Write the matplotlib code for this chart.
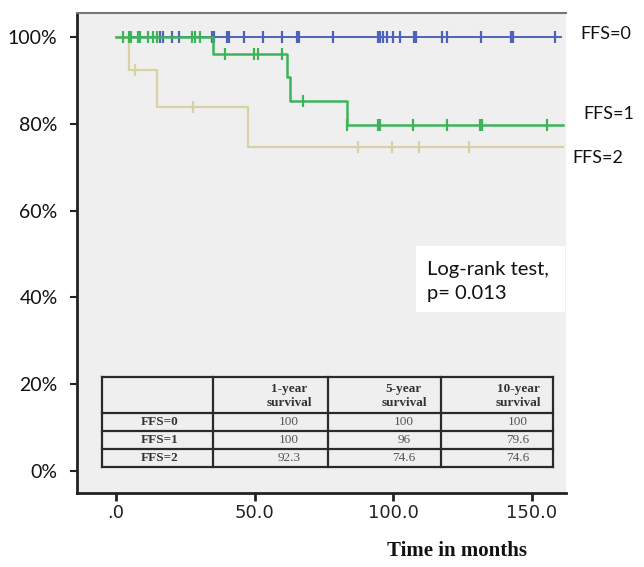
import numpy as np
import matplotlib
matplotlib.use("Agg")
import matplotlib.pyplot as plt
from matplotlib.patches import Rectangle

# ---------------- data ----------------
groups = ["FFS=0", "FFS=1", "FFS=2"]

ffs0_times = [0, 160.5]
ffs0_surv = [100, 100]
ffs0_censor = [15.9, 17.0, 20.2, 22.7, 34.6, 35.3, 40.1, 40.7, 46.2, 53.0, 59.9,
               65.3, 65.9, 78.3, 94.5, 95.1, 96.3, 97.7, 99.9, 102.4, 107.5,
               108.1, 117.6, 119.4, 131.6, 142.5, 143.1, 158.3]

ffs1_times = [0, 35.0, 61.7, 62.8, 83.3, 161.2]
ffs1_surv = [100, 96.0, 90.8, 85.3, 79.6, 79.6]
ffs1_censor = [2.5, 4.7, 5.4, 7.9, 8.7, 11.5, 13.3, 14.8, 27.4, 28.5, 30.3,
               39.3, 49.8, 51.2, 59.9, 67.4, 83.3, 94.5, 95.1, 107.1, 119.4,
               131.3, 131.9, 155.4]

ffs2_times = [0, 4.6, 14.8, 47.7, 161.2]
ffs2_surv = [100, 92.3, 83.9, 74.6, 74.6]
ffs2_censor = [6.9, 27.8, 87.3, 99.5, 109.3, 127.3]

x_ticks = [0, 50, 100, 150]
x_tick_labels = [".0", "50.0", "100.0", "150.0"]
y_ticks = [0, 20, 40, 60, 80, 100]
y_tick_labels = ["0%", "20%", "40%", "60%", "80%", "100%"]

table_header = ["1-year\nsurvival", "5-year\nsurvival", "10-year\nsurvival"]
table_rows = ["FFS=0", "FFS=1", "FFS=2"]
table_values = [["100", "100", "100"],
                ["100", "96", "79.6"],
                ["92.3", "74.6", "74.6"]]

# ---------------- figure ----------------
W, H = 644, 567
fig = plt.figure(figsize=(W / 100, H / 100), dpi=100)
fig.patch.set_facecolor("white")

def fx(px):
    return px / W

def fy(py):
    return 1 - py / H

ax_l, ax_r, ax_t, ax_b = 77, 566, 13, 493
ax = fig.add_axes([fx(ax_l), fy(ax_b), (ax_r - ax_l) / W, (ax_b - ax_t) / H])
ax.set_facecolor("#efefef")
ax.set_xlim(-14.1, 162.3)
ax.set_ylim(-5.07, 105.5)

colors = {"FFS=0": "#4f62b8", "FFS=1": "#3db45a", "FFS=2": "#d6d2a2"}
series = {
    "FFS=0": (ffs0_times, ffs0_surv, ffs0_censor),
    "FFS=1": (ffs1_times, ffs1_surv, ffs1_censor),
    "FFS=2": (ffs2_times, ffs2_surv, ffs2_censor),
}
lw = {"FFS=0": 1.4, "FFS=1": 1.8, "FFS=2": 1.6}
order = ["FFS=0", "FFS=2", "FFS=1"]
for z, g in enumerate(order):
    t, s, c = series[g]
    ax.step(t, s, where="post", color=colors[g], lw=lw[g], zorder=3 + z)
    t_arr = np.asarray(t)
    s_arr = np.asarray(s)
    idx = np.searchsorted(t_arr, np.asarray(c), side="right") - 1
    ax.plot(c, s_arr[idx], linestyle="none", marker="|", markersize=8,
            mew=1.6, color=colors[g], zorder=3 + z)

# spines & ticks
for side in ["left", "bottom"]:
    ax.spines[side].set_color("#222222")
    ax.spines[side].set_linewidth(2)
ax.spines["top"].set_color("#777777")
ax.spines["top"].set_linewidth(1.5)
ax.spines["right"].set_visible(False)

ax.set_xticks(x_ticks)
ax.set_xticklabels(x_tick_labels, family="DejaVu Sans", fontsize=13, color="#222222")
ax.set_yticks(y_ticks)
ax.set_yticklabels(y_tick_labels, family="Lato", fontsize=14, color="#111111")
ax.tick_params(axis="x", direction="out", length=6, width=2, color="#222222", pad=2)
ax.tick_params(axis="y", direction="out", length=5, width=1.5, color="#222222", pad=9)

# ---------------- table ----------------
def axx(px):
    return (px - ax_l) / (ax_r - ax_l)

def axy(py):
    return (ax_b - py) / (ax_b - ax_t)

col_edges = [102, 213, 328, 441, 553]
row_edges = [377, 413, 431, 449, 467]
lc = "#2a2a2a"
for cx in col_edges:
    ax.plot([axx(cx)] * 2, [axy(row_edges[0]), axy(row_edges[-1])],
            transform=ax.transAxes, color=lc, lw=1.6, zorder=10, clip_on=False)
for ry in row_edges:
    ax.plot([axx(col_edges[0]), axx(col_edges[-1])], [axy(ry)] * 2,
            transform=ax.transAxes, color=lc, lw=1.6, zorder=10, clip_on=False)

val_cx = [289, 404, 518]
for j, h in enumerate(table_header):
    ax.text(axx(val_cx[j]), axy((row_edges[0] + row_edges[1]) / 2 + 1), h,
            transform=ax.transAxes, ha="center", va="center",
            family="Liberation Serif", fontweight="bold", fontsize=9.5,
            color="#333333", linespacing=1.2, zorder=11)
for i, rname in enumerate(table_rows):
    cy = axy((row_edges[i + 1] + row_edges[i + 2]) / 2)
    ax.text(axx(160), cy, rname, transform=ax.transAxes, ha="center", va="center",
            family="Liberation Serif", fontweight="bold", fontsize=9.5,
            color="#333333", zorder=11)
    for j, v in enumerate(table_values[i]):
        ax.text(axx(val_cx[j]), cy, v, transform=ax.transAxes, ha="center",
                va="center", family="Liberation Serif", fontsize=9.5,
                color="#555555", zorder=11)

# ---------------- annotations ----------------
fig.patches.append(Rectangle((fx(416), fy(312)), (565 - 416) / W, (312 - 246) / H,
                             transform=fig.transFigure, facecolor="white",
                             edgecolor="none", zorder=20))
fig.text(fx(427), fy(270), "Log-rank test,", family="Lato", fontsize=14.5,
         ha="left", va="center", color="#111111", zorder=21)
fig.text(fx(427), fy(294), "p= 0.013", family="Lato", fontsize=14.5,
         ha="left", va="center", color="#111111", zorder=21)

label_pos = {"FFS=0": (580, 34), "FFS=1": (583, 114), "FFS=2": (572, 158)}
for g in groups:
    x, y = label_pos[g]
    fig.text(fx(x), fy(y), g, family="Lato", fontsize=13, ha="left",
             va="center", color="#111111")

fig.text(fx(457), fy(551), "Time in months", family="Liberation Serif",
         fontweight="bold", fontsize=15, ha="center", va="center", color="#111111")

fig.savefig("out.png", dpi=100)
